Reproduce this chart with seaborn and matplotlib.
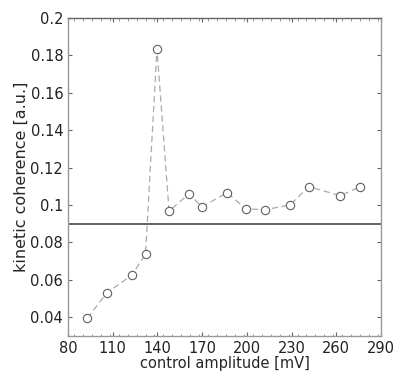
import numpy as np
import pandas as pd
import matplotlib
matplotlib.use('Agg')
import matplotlib.pyplot as plt
import seaborn as sns
from matplotlib.ticker import MultipleLocator, FuncFormatter

# values
amplitude = [93, 106, 122.7, 132, 139.7, 147.8, 161, 170, 186.7, 199.3, 212, 228.8, 241.7, 262.8, 275.8]
coherence = [0.0395, 0.0531, 0.0624, 0.0737, 0.1835, 0.0968, 0.1059, 0.0991, 0.1066, 0.0980, 0.0975, 0.1000, 0.1098, 0.1050, 0.1098]
threshold = 0.09

xticks = [80, 110, 140, 170, 200, 230, 260, 290]
yticks = [0.04, 0.06, 0.08, 0.1, 0.12, 0.14, 0.16, 0.18, 0.2]

df = pd.DataFrame({'amplitude': amplitude, 'coherence': coherence})

sns.set_style('ticks')
plt.rcParams['font.family'] = ['DejaVu Sans']

fig = plt.figure(figsize=(4.09, 3.92), dpi=100)
ax = fig.add_axes([68/409, 1-336/392, (381-68)/409, (336-18)/392])

ax.axhline(threshold, color='#555555', lw=1.3, zorder=1)
sns.lineplot(data=df, x='amplitude', y='coherence', ax=ax, color='#aaaaaa',
             lw=0.9, linestyle=(0, (5, 3)), marker='o', markersize=6,
             markerfacecolor='white', markeredgecolor='#606060', markeredgewidth=0.8,
             zorder=3)

ax.set_xlim(80, 290)
ax.set_ylim(0.03, 0.2)
ax.set_xticks(xticks)
ax.set_yticks(yticks)
ax.xaxis.set_minor_locator(MultipleLocator(6))
ax.yaxis.set_major_formatter(FuncFormatter(lambda v, p: '%g' % round(v, 3)))

ax.tick_params(which='both', direction='in', top=True, right=True, labelsize=10.5, colors='#222222')
ax.tick_params(which='major', length=3, color='#666666')
ax.tick_params(which='minor', length=1.8, color='#888888')
for side in ['left', 'right', 'bottom']:
    ax.spines[side].set_color('#999999')
ax.spines['top'].set_color('#666666')
for s in ax.spines.values():
    s.set_linewidth(1.0)

ax.set_xlabel('control amplitude [mV]', fontsize=10.5, labelpad=0)
ax.set_ylabel('kinetic coherence [a.u.]', fontsize=11.5, labelpad=1)

fig.savefig('out.png', dpi=100)
